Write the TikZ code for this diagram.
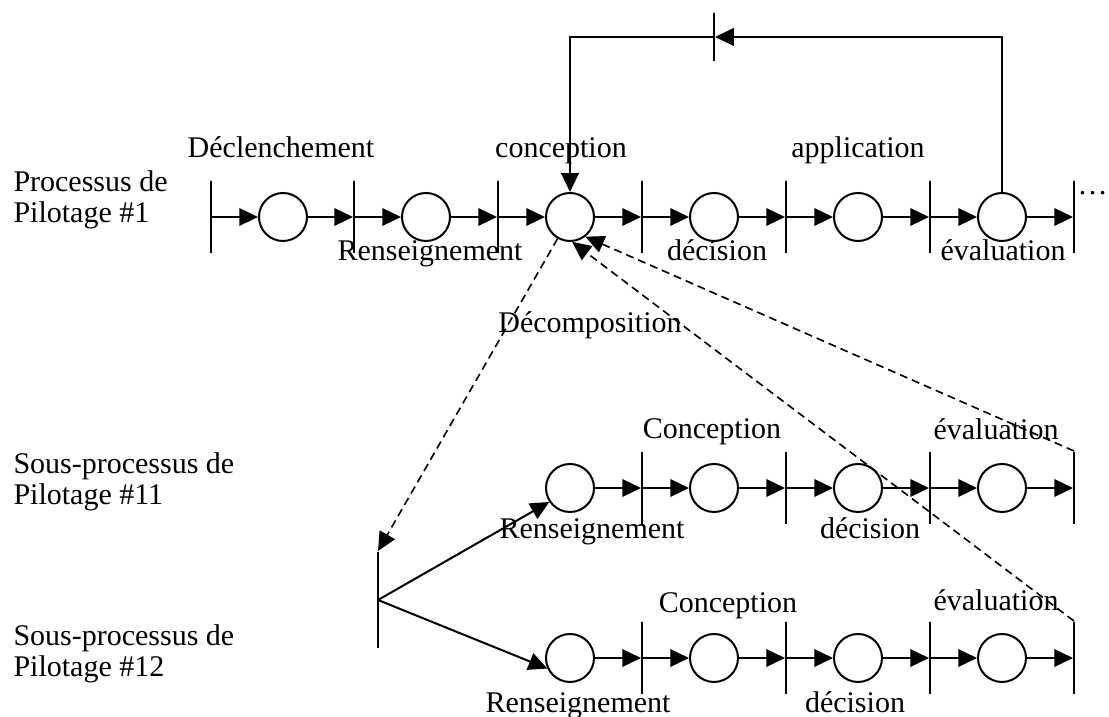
\documentclass[tikz,border=0pt]{standalone}
\usepackage{fontspec}
\setmainfont{Liberation Serif}
\usetikzlibrary{arrows.meta}

\tikzset{
  place/.style={circle,draw,line width=0.8pt,minimum size=19.2pt,inner sep=0pt},
  trans/.style={draw,line width=0.8pt,minimum width=0pt,minimum height=28.8pt,inner sep=0pt},
  flow/.style={line width=0.8pt,-{Triangle[length=7.5pt,width=7pt]}},
  link/.style={line width=0.65pt,dash pattern=on 3.2pt off 2pt,-{Triangle[length=7.5pt,width=7pt]}},
  lab/.style={anchor=base,inner sep=0pt},
  side/.style={anchor=base west,inner sep=0pt,align=left},
}

\begin{document}
\begin{tikzpicture}[x=0.4pt,y=-0.4pt,font=\fontsize{12}{12.4}\selectfont]
    \useasboundingbox (0,0) rectangle (1109,717);

    %processus de pilotage #1
    \node[trans] (t0) at (211,217) {};
    \node[place] (p1) at (283,217) {};
    \node[trans] (t1) at (354,217) {};
    \node[place] (p2) at (426,217) {};
    \node[trans] (t2) at (498,217) {};
    \node[place] (p3) at (570,217) {};
    \node[trans] (t3) at (642,217) {};
    \node[place] (p4) at (714,217) {};
    \node[trans] (t4) at (786,217) {};
    \node[place] (p5) at (858,217) {};
    \node[trans] (t5) at (930,217) {};
    \node[place] (p6) at (1002,217) {};
    \node[trans] (t6) at (1074,217) {};
    \node[anchor=base west,inner sep=0pt] (dots) at (1077,195) {\ldots};
    \draw[flow] (t0) -- (p1); \draw[flow] (p1) -- (t1);
    \draw[flow] (t1) -- (p2); \draw[flow] (p2) -- (t2);
    \draw[flow] (t2) -- (p3); \draw[flow] (p3) -- (t3);
    \draw[flow] (t3) -- (p4); \draw[flow] (p4) -- (t4);
    \draw[flow] (t4) -- (p5); \draw[flow] (p5) -- (t5);
    \draw[flow] (t5) -- (p6); \draw[flow] (p6) -- (t6);

    %retour evaluation -> conception
    \node[trans,minimum height=19.2pt] (tf) at (714,37) {};
    \draw[flow] (p6) |- (tf);
    \draw[flow] (tf) -| (p3);

    %sous-processus #11
    \node[place] (pa1) at (570,488) {};
    \node[trans] (ta1) at (642,488) {};
    \node[place] (pa2) at (714,488) {};
    \node[trans] (ta2) at (786,488) {};
    \node[place] (pa3) at (858,488) {};
    \node[trans] (ta3) at (930,488) {};
    \node[place] (pa4) at (1002,488) {};
    \node[trans] (ta4) at (1074,488) {};
    \draw[flow] (pa1) -- (ta1); \draw[flow] (ta1) -- (pa2);
    \draw[flow] (pa2) -- (ta2); \draw[flow] (ta2) -- (pa3);
    \draw[flow] (pa3) -- (ta3); \draw[flow] (ta3) -- (pa4);
    \draw[flow] (pa4) -- (ta4);

    %sous-processus #12
    \node[place] (pb1) at (570,658) {};
    \node[trans] (tb1) at (642,658) {};
    \node[place] (pb2) at (714,658) {};
    \node[trans] (tb2) at (786,658) {};
    \node[place] (pb3) at (858,658) {};
    \node[trans] (tb3) at (930,658) {};
    \node[place] (pb4) at (1002,658) {};
    \node[trans] (tb4) at (1074,658) {};
    \draw[flow] (pb1) -- (tb1); \draw[flow] (tb1) -- (pb2);
    \draw[flow] (pb2) -- (tb2); \draw[flow] (tb2) -- (pb3);
    \draw[flow] (pb3) -- (tb3); \draw[flow] (tb3) -- (pb4);
    \draw[flow] (pb4) -- (tb4);

    %decomposition
    \node[trans,minimum height=38.4pt] (fork) at (378,600) {};
    \draw[flow] (fork) -- (pa1.214);
    \draw[flow] (fork) -- (pb1.205);
    \draw[link] (p3) -- (fork.north);
    \draw[link] (ta4.north) -- (p3.-52);
    \draw[link] (tb4.north) -- (p3.-85);

    %labels
    \node[side] (n1) at (13,223) {Processus de\\Pilotage \#1};
    \node[side] (n11) at (13,505) {Sous-processus de\\Pilotage \#11};
    \node[side] (n12) at (13,677) {Sous-processus de\\Pilotage \#12};
    \node[lab] (l1) at (281,158) {Déclenchement};
    \node[lab] (l2) at (430,261) {Renseignement};
    \node[lab] (l3) at (561,158) {conception};
    \node[lab] (l4) at (717,261) {décision};
    \node[lab] (l5) at (858,158) {application};
    \node[lab] (l6) at (1003,261) {évaluation};
    \node[lab] (ld) at (590,333) {Décomposition};
    \node[lab] (la1) at (592,539) {Renseignement};
    \node[lab] (la2) at (712,439) {Conception};
    \node[lab] (la3) at (870,539) {décision};
    \node[lab] (la4) at (996,440) {évaluation};
    \node[lab] (lb1) at (578,713) {Renseignement};
    \node[lab] (lb2) at (728,613) {Conception};
    \node[lab] (lb3) at (855,713) {décision};
    \node[lab] (lb4) at (996,611) {évaluation};
\end{tikzpicture}
\end{document}
